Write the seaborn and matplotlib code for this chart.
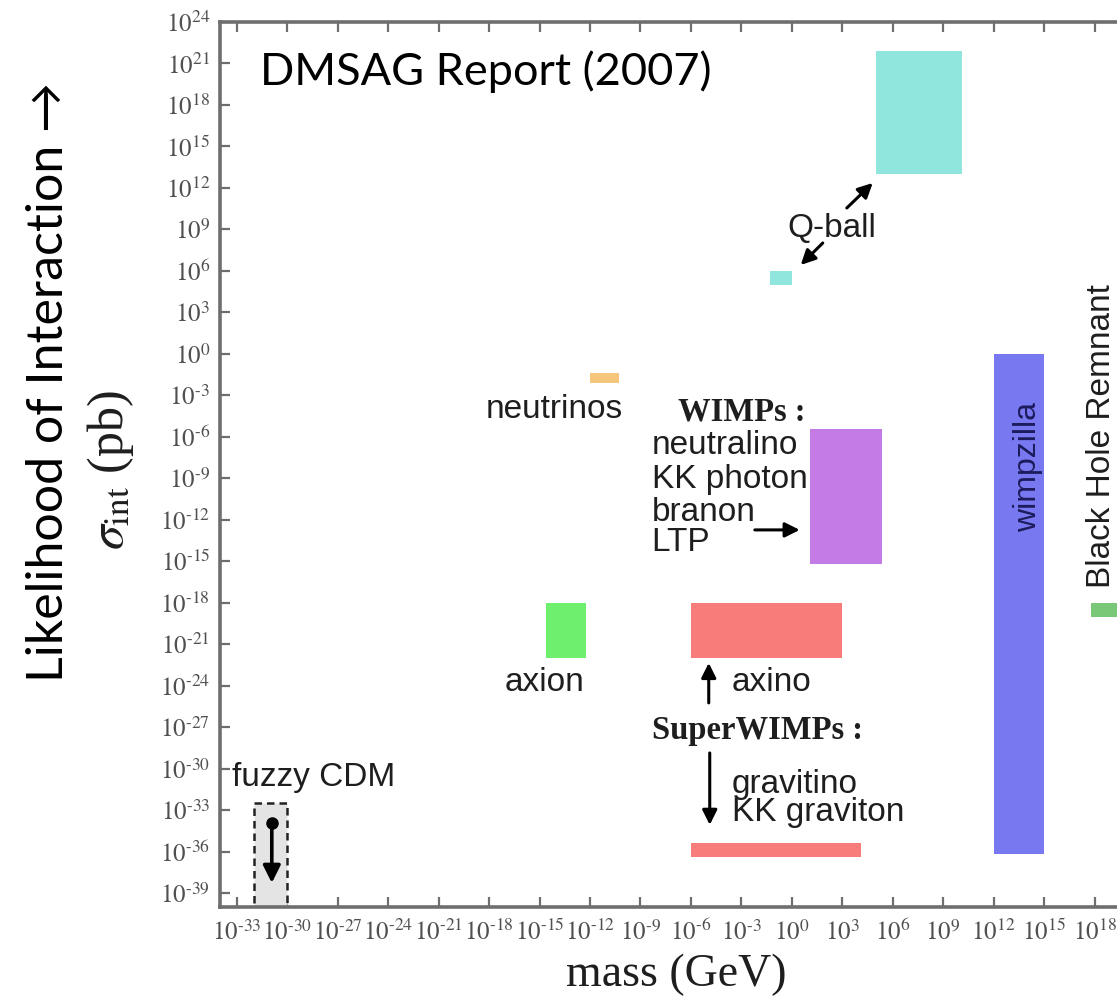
import matplotlib
matplotlib.use("Agg")
import matplotlib.pyplot as plt
import matplotlib.patches as mpatches
import numpy as np
import pandas as pd
import seaborn as sns

# ---------------- data (log10 values) ----------------
candidates = ["Q-ball (heavy)", "Q-ball (light)", "neutrinos", "WIMPs", "axion",
              "axino", "gravitino / KK graviton", "wimpzilla", "Black Hole Remnant",
              "fuzzy CDM"]
log_mass_lo = [5.0, -1.3, -12.0, 1.1, -14.6, -6.0, -6.0, 12.0, 17.8, -32.0]
log_mass_hi = [10.1, 0.0, -10.3, 5.35, -12.25, 3.0, 4.1, 15.0, 20.0, -30.0]
log_sigma_lo = [13.0, 5.0, -2.1, -15.2, -22.0, -22.0, -36.4, -36.2, -19.0, -40.0]
log_sigma_hi = [21.9, 6.0, -1.4, -5.4, -18.0, -18.0, -35.4, 0.0, -18.0, -32.5]
colors = ["#90e6dd", "#90e6dd", "#f6c67c", "#c57be6", "#6ef06e",
          "#f87c7a", "#f87c7a", "#7878f0", "#78c878", "#e4e4e4"]

x_tick_exps = [-33, -30, -27, -24, -21, -18, -15, -12, -9, -6, -3, 0, 3, 6, 9, 12, 15, 18, 21]
x_tick_labels = [r"$10^{\text{-}33}$", r"$10^{\text{-}30}$", r"$10^{\text{-}27}$",
                 r"$10^{\text{-}24}$", r"$10^{\text{-}21}$", r"$10^{\text{-}18}$",
                 r"$10^{\text{-}15}$", r"$10^{\text{-}12}$", r"$10^{\text{-}9}$",
                 r"$10^{\text{-}6}$", r"$10^{\text{-}3}$", r"$10^{0}$", r"$10^{3}$",
                 r"$10^{6}$", r"$10^{9}$", r"$10^{12}$", r"$10^{15}$", r"$10^{18}$",
                 r"$10^{21}$"]
y_tick_exps = [-39, -36, -33, -30, -27, -24, -21, -18, -15, -12, -9, -6, -3, 0,
               3, 6, 9, 12, 15, 18, 21, 24]
y_tick_labels = [r"$10^{\text{-}39}$", r"$10^{\text{-}36}$", r"$10^{\text{-}33}$",
                 r"$10^{\text{-}30}$", r"$10^{\text{-}27}$", r"$10^{\text{-}24}$",
                 r"$10^{\text{-}21}$", r"$10^{\text{-}18}$", r"$10^{\text{-}15}$",
                 r"$10^{\text{-}12}$", r"$10^{\text{-}9}$", r"$10^{\text{-}6}$",
                 r"$10^{\text{-}3}$", r"$10^{0}$", r"$10^{3}$", r"$10^{6}$", r"$10^{9}$",
                 r"$10^{12}$", r"$10^{15}$", r"$10^{18}$", r"$10^{21}$", r"$10^{24}$"]

df = pd.DataFrame({"name": candidates, "m_lo": log_mass_lo, "m_hi": log_mass_hi,
                   "s_lo": log_sigma_lo, "s_hi": log_sigma_hi, "color": colors})

# ---------------- style ----------------
sns.set_theme(style="ticks")
plt.rcParams["font.family"] = ["Liberation Sans", "DejaVu Sans"]
plt.rcParams["mathtext.fontset"] = "stix"

fig = plt.figure(figsize=(11.17, 10), dpi=100)
ax = fig.add_axes([220 / 1117, 0.093, 925 / 1117, 0.885])
ax.set_xscale("log")
ax.set_yscale("log")
ax.set_xlim(1e-34, 1e21)
ax.set_ylim(1e-40, 1e24)

spine_col = "#6e6e6e"
for s in ax.spines.values():
    s.set_color(spine_col)
    s.set_linewidth(2.6)

ax.set_xticks([10.0 ** e for e in x_tick_exps])
ax.set_xticklabels(x_tick_labels)
ax.set_yticks([10.0 ** e for e in y_tick_exps])
ax.set_yticklabels(y_tick_labels)
ax.minorticks_off()
ax.tick_params(axis="both", which="major", direction="in", length=7, width=1.6,
               color=spine_col, labelcolor="#505050", labelsize=18,
               top=True, right=True)
ax.tick_params(axis="x", pad=9)
ax.tick_params(axis="y", pad=7)

# ---------------- rectangles ----------------
for _, r in df.iterrows():
    x0, x1 = 10.0 ** r.m_lo, 10.0 ** r.m_hi
    y0, y1 = 10.0 ** r.s_lo, 10.0 ** r.s_hi
    if r["name"] == "fuzzy CDM":
        rect = mpatches.Rectangle((x0, y0), x1 - x0, y1 - y0, facecolor=r.color,
                                  edgecolor="#222222", linestyle=(0, (3, 2)), lw=1.8, zorder=2)
    else:
        rect = mpatches.Rectangle((x0, y0), x1 - x0, y1 - y0, facecolor=r.color,
                                  edgecolor="none", zorder=2)
    ax.add_patch(rect)

# ---------------- labels & arrows ----------------
P = lambda ex, ey: (10.0 ** ex, 10.0 ** ey)
lab = dict(fontsize=24, color="#1e1e1e", family=["Liberation Sans", "DejaVu Sans"])
bold_serif = dict(fontsize=23.5, fontweight="bold", family="Liberation Serif", color="#1e1e1e")
arr = dict(arrowstyle="-|>", color="black", lw=2.2, mutation_scale=22, shrinkA=0, shrinkB=0)

ax.text(*P(2.37, 9.1), "Q-ball", ha="center", va="center", **lab)
ax.annotate("", xy=P(4.81, 12.36), xytext=P(3.27, 10.55), arrowprops=arr)
ax.annotate("", xy=P(0.53, 6.43), xytext=P(1.84, 8.02), arrowprops=arr)

ax.text(*P(-10.05, -4.05), "neutrinos", ha="right", va="center", **lab)

ax.text(*P(-6.78, -4.2), "WIMPs :", ha="left", va="center", **bold_serif)
for ey, t in zip([-6.59, -9.12, -11.5, -13.67], ["neutralino", "KK photon", "branon", "LTP"]):
    ax.text(*P(-8.33, ey), t, ha="left", va="center", **lab)
ax.annotate("", xy=P(0.47, -12.73), xytext=P(-2.2, -12.73), arrowprops=arr)

ax.text(*P(-14.69, -23.8), "axion", ha="center", va="center", **lab)
ax.annotate("", xy=P(-4.94, -22.35), xytext=P(-4.94, -25.24), arrowprops=arr)
ax.text(*P(-3.57, -23.8), "axino", ha="left", va="center", **lab)
ax.text(*P(-8.33, -27.2), "SuperWIMPs :", ha="left", va="center", **bold_serif)
ax.annotate("", xy=P(-4.88, -34.06), xytext=P(-4.88, -28.86), arrowprops=arr)
ax.text(*P(-3.57, -31.17), "gravitino", ha="left", va="center", **lab)
ax.text(*P(-3.57, -33.2), "KK graviton", ha="left", va="center", **lab)

ax.text(*P(-33.3, -30.66), "fuzzy CDM", ha="left", va="center", **lab)
ax.plot(*P(-30.92, -33.92), "o", color="black", ms=8, zorder=4)
ax.annotate("", xy=P(-30.92, -38.26), xytext=P(-30.92, -33.92),
            arrowprops=dict(arr, lw=2.6, mutation_scale=26), zorder=4)

ax.text(*P(14.03, -8.18), "wimpzilla", rotation=90, ha="center", va="center",
        fontsize=23, color="#1c1c5c", family=["Liberation Sans", "DejaVu Sans"])
ax.text(*P(18.9, -16.93), "Black Hole Remnant", rotation=90, rotation_mode="anchor",
        ha="left", va="baseline", **lab)

# ---------------- axis titles & annotations ----------------
fig.text(0.605, 0.025, "mass (GeV)", ha="center", va="center", fontsize=33,
         family="Liberation Serif", color="#1e1e1e")
fig.text(0.0985, 0.53, r"$\sigma_{\rm int}$ (pb)", rotation=90, ha="center", va="center",
         fontsize=36, family="Liberation Serif", color="#1e1e1e")
fig.text(0.0564, 0.618, "Likelihood of Interaction \u2192", rotation=90,
         rotation_mode="anchor", ha="center", va="baseline", fontsize=36,
         family=["Lato", "DejaVu Sans"], color="black")
fig.text(260 / 1117, 0.915, "DMSAG Report (2007)", ha="left", va="baseline",
         fontsize=32.5, family=["Lato", "DejaVu Sans"], color="black")

fig.savefig("out.png", dpi=100)
